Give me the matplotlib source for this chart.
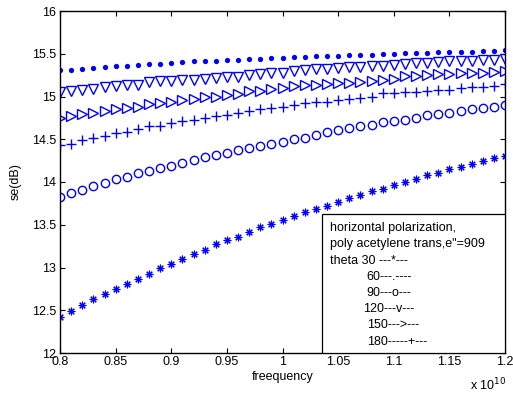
import numpy as np
import matplotlib
matplotlib.use('Agg')
import matplotlib.pyplot as plt
from matplotlib.patches import Rectangle

plt.rcParams['font.family'] = ['Liberation Sans', 'DejaVu Sans']

# frequency grid (x 1e10 Hz)
freq = np.linspace(0.8, 1.2, 41)

# shielding effectiveness (dB)
se_30 = [12.42, 12.49, 12.56, 12.63, 12.69, 12.75, 12.81, 12.87, 12.92, 12.99,
         13.04, 13.10, 13.16, 13.21, 13.27, 13.32, 13.36, 13.42, 13.47, 13.51,
         13.56, 13.60, 13.65, 13.69, 13.72, 13.77, 13.81, 13.85, 13.89, 13.92,
         13.96, 14.00, 14.04, 14.08, 14.11, 14.15, 14.18, 14.21, 14.25, 14.28, 14.30]
se_60 = [15.31, 15.31, 15.32, 15.33, 15.35, 15.36, 15.36, 15.37, 15.38, 15.38,
         15.39, 15.40, 15.41, 15.41, 15.42, 15.43, 15.43, 15.44, 15.44, 15.45,
         15.45, 15.46, 15.46, 15.47, 15.47, 15.47, 15.49, 15.49, 15.49, 15.50,
         15.50, 15.51, 15.51, 15.51, 15.52, 15.52, 15.52, 15.52, 15.53, 15.53, 15.54]
se_90 = [13.82, 13.87, 13.91, 13.95, 13.99, 14.03, 14.06, 14.10, 14.13, 14.16,
         14.19, 14.22, 14.26, 14.29, 14.32, 14.34, 14.37, 14.40, 14.42, 14.45,
         14.47, 14.50, 14.52, 14.55, 14.58, 14.61, 14.63, 14.65, 14.67, 14.70,
         14.71, 14.73, 14.75, 14.78, 14.79, 14.81, 14.83, 14.85, 14.87, 14.88, 14.90]
se_120 = [15.05, 15.07, 15.08, 15.09, 15.11, 15.12, 15.13, 15.14, 15.17, 15.18,
          15.18, 15.19, 15.19, 15.21, 15.22, 15.23, 15.23, 15.25, 15.26, 15.27,
          15.28, 15.30, 15.31, 15.32, 15.32, 15.33, 15.34, 15.35, 15.36, 15.36,
          15.37, 15.38, 15.39, 15.39, 15.40, 15.41, 15.41, 15.42, 15.43, 15.43, 15.44]
se_150 = [14.75, 14.77, 14.79, 14.81, 14.83, 14.85, 14.87, 14.88, 14.91, 14.92,
          14.94, 14.96, 14.97, 14.99, 15.00, 15.02, 15.03, 15.06, 15.07, 15.09,
          15.10, 15.12, 15.13, 15.13, 15.15, 15.16, 15.16, 15.17, 15.18, 15.19,
          15.20, 15.24, 15.24, 15.25, 15.26, 15.26, 15.27, 15.28, 15.28, 15.29, 15.30]
se_180 = [14.43, 14.45, 14.49, 14.52, 14.54, 14.57, 14.59, 14.62, 14.65, 14.66,
          14.69, 14.71, 14.72, 14.75, 14.77, 14.78, 14.81, 14.83, 14.85, 14.87,
          14.88, 14.90, 14.92, 14.94, 14.94, 14.96, 14.97, 14.98, 15.00, 15.04,
          15.04, 15.05, 15.05, 15.07, 15.08, 15.08, 15.10, 15.11, 15.11, 15.12, 15.15]

legend_lines = ['horizontal polarization,', 'poly acetylene trans,e"=909',
                'theta 30 ---*---', '60---.----', '90---o---', '120---v---',
                '150--->---', '180-----+---']

xticks = [0.8, 0.85, 0.9, 0.95, 1.0, 1.05, 1.1, 1.15, 1.2]
xticklabels = ['0.8', '0.85', '0.9', '0.95', '1', '1.05', '1.1', '1.15', '1.2']
yticks = [12, 12.5, 13, 13.5, 14, 14.5, 15, 15.5, 16]
yticklabels = ['12', '12.5', '13', '13.5', '14', '14.5', '15', '15.5', '16']

blue = '#0000ff'
fig = plt.figure(figsize=(5.13, 3.98), dpi=100)
ax = fig.add_axes([60/513, 45/398, 445/513, 342/398])

ax.plot(freq, se_30, linestyle='none', marker=(8, 2, 0), ms=5.5, mew=0.8, color=blue)
ax.plot(freq, se_60, linestyle='none', marker='o', ms=3.8, mew=0, color=blue)
ax.plot(freq, se_90, linestyle='none', marker='o', ms=6, mew=1.0, mfc='none', color=blue)
ax.plot(freq, se_120, linestyle='none', marker='v', ms=6.5, mew=1.0, mfc='none', color=blue)
ax.plot(freq, se_150, linestyle='none', marker='>', ms=6.5, mew=1.0, mfc='none', color=blue)
ax.plot(freq, se_180, linestyle='none', marker='+', ms=6.5, mew=1.0, color=blue)

ax.set_xlim(0.8, 1.2)
ax.set_ylim(12, 16)
ax.set_xticks(xticks)
ax.set_xticklabels(xticklabels)
ax.set_yticks(yticks)
ax.set_yticklabels(yticklabels)
ax.tick_params(direction='in', length=3.5, width=0.8, labelsize=9,
               top=True, right=True)
ax.tick_params(axis='x', pad=2)
ax.tick_params(axis='y', pad=3)
for s in ax.spines.values():
    s.set_linewidth(1.0)

ax.set_xlabel('freequency', fontsize=9, labelpad=2)
ax.set_ylabel('se(dB)', fontsize=9, labelpad=7)
fig.text(470/513, 1 - 385/398, r'x 10$^{10}$', fontsize=9, va='center', ha='left')

# legend box drawn as text panel
box = Rectangle((0.588, 0.0), 0.412, 0.406, transform=ax.transAxes,
                facecolor='white', edgecolor='black', linewidth=0.9, zorder=5)
ax.add_patch(box)
y0 = 0.365
dy = 0.0474
xpos = [0.607, 0.607, 0.607, 0.688, 0.688, 0.680, 0.690, 0.690]
for i, line in enumerate(legend_lines):
    ax.text(xpos[i], y0 - i * dy, line, transform=ax.transAxes, fontsize=9,
            va='center', ha='left', zorder=6)

fig.savefig('out.png', dpi=100)
